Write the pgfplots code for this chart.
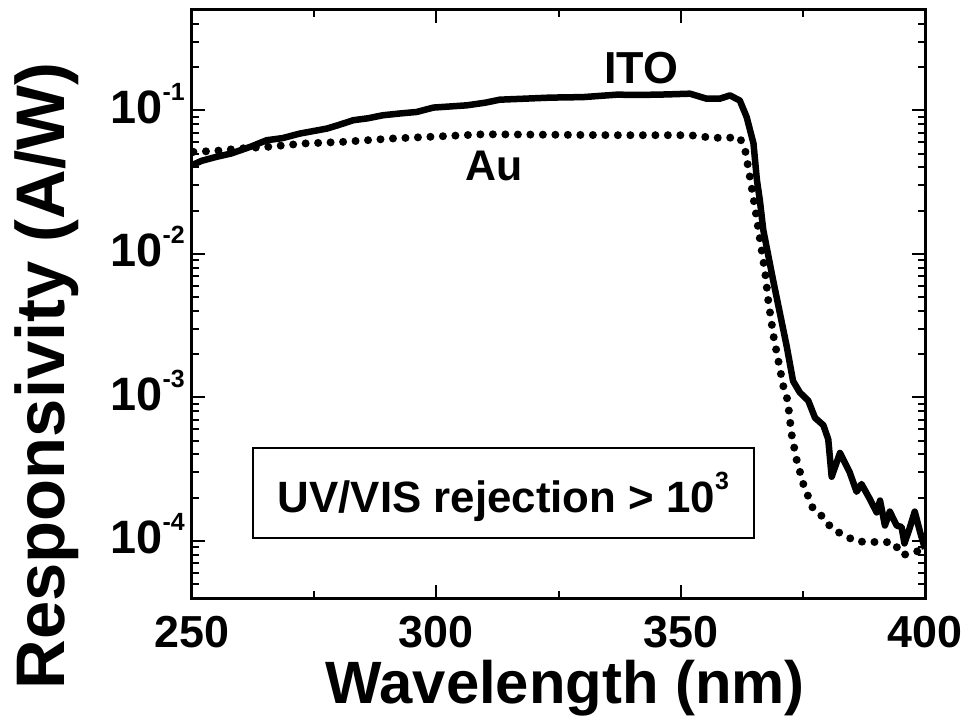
\documentclass[border=0pt]{standalone}
\usepackage{fontspec}
\setmainfont{Liberation Sans}
\usepackage{pgfplots}
\pgfplotsset{compat=1.18}
\newcommand{\sups}[1]{\raisebox{23bp}{\fontsize{25}{25}\selectfont\bfseries #1}}
\begin{document}
\begin{tikzpicture}
\useasboundingbox (-192bp,-125bp) rectangle (776bp,598bp);
\begin{axis}[
  at={(0,0)}, anchor=south west,
  scale only axis, width=733bp, height=588bp,
  xmin=250, xmax=400, ymin=4e-5, ymax=0.5,
  ymode=log,
  axis line style={line width=3bp},
  tick style={line width=2bp, black},
  tick align=inside,
  major tick length=13bp, minor tick length=7bp,
  xtick={250,300,350,400}, minor xtick={275,325,375},
  xticklabels={250,300,350,400},
  ytick={1e-4,1e-3,1e-2,1e-1},
  yticklabels={10\sups{-4},10\sups{-3},10\sups{-2},10\sups{-1}},
  minor ytick={5e-5,6e-5,7e-5,8e-5,9e-5,2e-4,3e-4,4e-4,5e-4,6e-4,7e-4,8e-4,9e-4,2e-3,3e-3,4e-3,5e-3,6e-3,7e-3,8e-3,9e-3,2e-2,3e-2,4e-2,5e-2,6e-2,7e-2,8e-2,9e-2,2e-1,3e-1,4e-1},
  xticklabel style={font=\fontsize{45}{45}\selectfont\bfseries, inner sep=0pt, anchor=base, yshift=-49bp},
  yticklabel style={font=\fontsize{47}{47}\selectfont\bfseries, inner sep=0pt, anchor=base east, yshift=-13bp, xshift=-7bp},
  xlabel={Wavelength (nm)},
  ylabel={Responsivity (A/W)},
  xlabel style={font=\fontsize{60}{60}\selectfont\bfseries, inner sep=0pt, at={(axis description cs:0.509,-0.1786)}, anchor=base},
  ylabel style={font=\fontsize{69}{69}\selectfont\bfseries, inner sep=0pt, at={(axis description cs:-0.1740,0.3776)}, anchor=base},
]
\addplot[black, line width=6.5bp, line join=round] coordinates {
(250.0,0.0415) (252.0,0.0445) (255.0,0.0474) (258.0,0.0500) (261.9,0.0556) (265.3,0.0619) (268.5,0.0640) (272.1,0.0689)
(277.6,0.0746) (280.0,0.0790) (283.0,0.0853) (286.0,0.0880) (289.1,0.0924) (292.5,0.0950) (296.0,0.0974) (299.4,0.1045)
(306.2,0.1083) (310.0,0.1130) (313.0,0.1186) (318.0,0.1205) (323.3,0.1226) (330.0,0.1236) (336.9,0.1285)
(342.0,0.1280) (347.1,0.1290) (351.9,0.1306) (355.3,0.1205) (358.0,0.1205) (360.1,0.1270)
(362.1,0.1170) (363.5,0.0899) (364.9,0.0588) (365.6,0.0327) (366.2,0.0237)
(366.9,0.0147) (368.9,0.0066) (370.3,0.00387) (371.7,0.00227) (373.0,0.00130)
(374.4,0.00108) (376.1,0.00095) (377.5,0.00072) (379.2,0.00064) (380.2,0.00051)
(380.9,0.00028) (382.6,0.00041) (384.6,0.00030) (386.0,0.000220) (387.0,0.000249)
(388.7,0.000196) (390.1,0.000158) (390.8,0.000191) (391.8,0.000128) (392.8,0.000160)
(394.2,0.000128) (395.2,0.000125) (395.8,0.000096) (396.9,0.000124) (397.9,0.000160)
(399.0,0.000115) (400.0,0.000088)
};
\addplot[black, line width=8bp, line cap=round, dash pattern=on 0bp off 12.5bp] coordinates {
(250.3,0.0513) (255.0,0.0522) (259.8,0.0542) (265.3,0.0556) (272.8,0.0587)
(280.6,0.0602) (290.9,0.0636) (301.4,0.0660) (309.6,0.0681) (323.3,0.0676)
(336.9,0.0671) (351.9,0.0671) (356.7,0.0643) (362.1,0.0646) (363.2,0.0528)
(363.8,0.0404) (364.5,0.0294) (365.5,0.0182) (366.2,0.0128) (367.3,0.00735)
(367.9,0.0048) (369.0,0.00267) (370.0,0.00179) (371.0,0.0012) (371.9,0.00095)
(372.7,0.000553) (373.7,0.000371) (375.1,0.000249) (377.1,0.000167) (379.2,0.000146)
(380.9,0.000122) (383.3,0.000110) (386.0,0.000099) (390.8,0.000098) (393.5,0.000098)
(395.4,0.0000795) (397.4,0.0000830) (399.0,0.0000855) (400.0,0.000090)
};
\node[font=\fontsize{45}{45}\selectfont\bfseries, inner sep=0pt, anchor=base] at (axis cs:341.9,0.154) {ITO};
\node[font=\fontsize{43}{43}\selectfont\bfseries, inner sep=0pt, anchor=base] at (axis cs:311.9,0.03265) {Au};
\node[draw, line width=1.5bp, minimum width=501bp, minimum height=90bp, inner sep=0pt,
      text height=38bp, text depth=0bp, font=\fontsize{44}{44}\selectfont\bfseries]
      at (axis cs:313.74,2.154e-4) {UV/VIS rejection > 10\sups{3}};
\end{axis}
\end{tikzpicture}
\end{document}
